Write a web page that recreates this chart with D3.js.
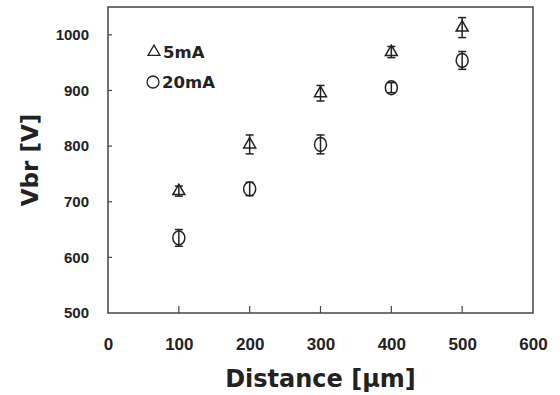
<!DOCTYPE html>
<html>
<head>
<meta charset="utf-8">
<script src="https://cdn.jsdelivr.net/npm/d3@7.9.0/dist/d3.min.js"></script>
<style>
  body { margin: 0; background: #fff; }
  svg { font-family: "DejaVu Sans", sans-serif; font-weight: bold; }
</style>
</head>
<body>
<svg id="chart" width="560" height="395"></svg>
<script>
// distances in µm
const distance = [100, 200, 300, 400, 500];
// breakdown voltage at 5 mA and its error
const v5mA = [719, 803, 895, 969, 1013];
const err5mA = [9, 17, 14, 10, 18];
// breakdown voltage at 20 mA and its error
const v20mA = [635, 723, 803, 905, 954];
const err20mA = [15, 12, 17, 9, 16];

const xTicks = [0, 100, 200, 300, 400, 500, 600];
const yTicks = [500, 600, 700, 800, 900, 1000];

const svg = d3.select('#chart');
const margin = { top: 7, right: 27, bottom: 82, left: 108 };
const width = 560, height = 395;

const x = d3.scaleLinear().domain([0, 600]).range([margin.left, width - margin.right]);
const y = d3.scaleLinear().domain([500, 1050]).range([height - margin.bottom, margin.top]);

// frame
svg.append('rect')
  .attr('x', x(0)).attr('y', y(1050))
  .attr('width', x(600) - x(0)).attr('height', y(500) - y(1050))
  .attr('fill', 'none').attr('stroke', '#444').attr('stroke-width', 1.5);

// y axis labels, ticks drawn inward separately
const yAxis = svg.append('g')
  .attr('transform', `translate(${x(0)},0)`)
  .call(d3.axisLeft(y).tickValues(yTicks).tickFormat(d3.format('d')).tickSize(0).tickPadding(19));
yAxis.select('.domain').remove();
yAxis.selectAll('text').attr('font-size', 15).attr('fill', '#222');
svg.append('g').selectAll('line')
  .data(yTicks.slice(1))
  .join('line')
  .attr('x1', x(0)).attr('x2', x(0) + 4)
  .attr('y1', d => y(d)).attr('y2', d => y(d))
  .attr('stroke', '#444').attr('stroke-width', 1.2);

// x axis labels, ticks drawn inward separately
const xAxis = svg.append('g')
  .attr('transform', `translate(0,${y(500)})`)
  .call(d3.axisBottom(x).tickValues(xTicks).tickSize(0).tickPadding(25));
xAxis.select('.domain').remove();
xAxis.selectAll('text').attr('font-size', 17).attr('fill', '#222');
svg.append('g').selectAll('line')
  .data(distance)
  .join('line')
  .attr('x1', d => x(d)).attr('x2', d => x(d))
  .attr('y1', y(500)).attr('y2', y(500) - 7)
  .attr('stroke', '#444').attr('stroke-width', 1.2);

// axis titles
svg.append('text')
  .attr('x', (x(0) + x(600)) / 2).attr('y', 387)
  .attr('text-anchor', 'middle')
  .attr('font-size', 24).attr('fill', '#222')
  .text('Distance [µm]');
svg.append('text')
  .attr('transform', `translate(38,${(y(500) + y(1050)) / 2}) rotate(-90)`)
  .attr('text-anchor', 'middle')
  .attr('font-size', 23).attr('fill', '#222')
  .text('Vbr [V]');

function errorBars(vals, errs) {
  const g = svg.append('g').attr('stroke', '#222').attr('stroke-width', 1.5);
  distance.forEach((d, i) => {
    const cx = x(d);
    g.append('line').attr('x1', cx).attr('x2', cx)
      .attr('y1', y(vals[i] + errs[i])).attr('y2', y(vals[i] - errs[i]));
    [vals[i] + errs[i], vals[i] - errs[i]].forEach(v => {
      g.append('line').attr('x1', cx - 4).attr('x2', cx + 4)
        .attr('y1', y(v)).attr('y2', y(v));
    });
  });
}

errorBars(v5mA, err5mA);
errorBars(v20mA, err20mA);

const tri = d3.symbol().type(d3.symbolTriangle).size(62);

svg.append('g').selectAll('path')
  .data(distance)
  .join('path')
  .attr('d', tri)
  .attr('transform', (d, i) => `translate(${x(d)},${y(v5mA[i])})`)
  .attr('fill', 'none').attr('stroke', '#222').attr('stroke-width', 1.5);

svg.append('g').selectAll('ellipse')
  .data(distance)
  .join('ellipse')
  .attr('cx', d => x(d)).attr('cy', (d, i) => y(v20mA[i]))
  .attr('rx', 6).attr('ry', 7)
  .attr('fill', 'none').attr('stroke', '#222').attr('stroke-width', 1.5);

// legend
svg.append('path').attr('d', tri)
  .attr('transform', 'translate(154,52)')
  .attr('fill', 'none').attr('stroke', '#222').attr('stroke-width', 1.3);
svg.append('text').attr('x', 163).attr('y', 57.5)
  .attr('font-size', 16.5).attr('fill', '#222').text('5mA');
svg.append('circle').attr('cx', 153).attr('cy', 82).attr('r', 6)
  .attr('fill', 'none').attr('stroke', '#222').attr('stroke-width', 1.3);
svg.append('text').attr('x', 162).attr('y', 88)
  .attr('font-size', 16.5).attr('fill', '#222').text('20mA');
</script>
</body>
</html>
